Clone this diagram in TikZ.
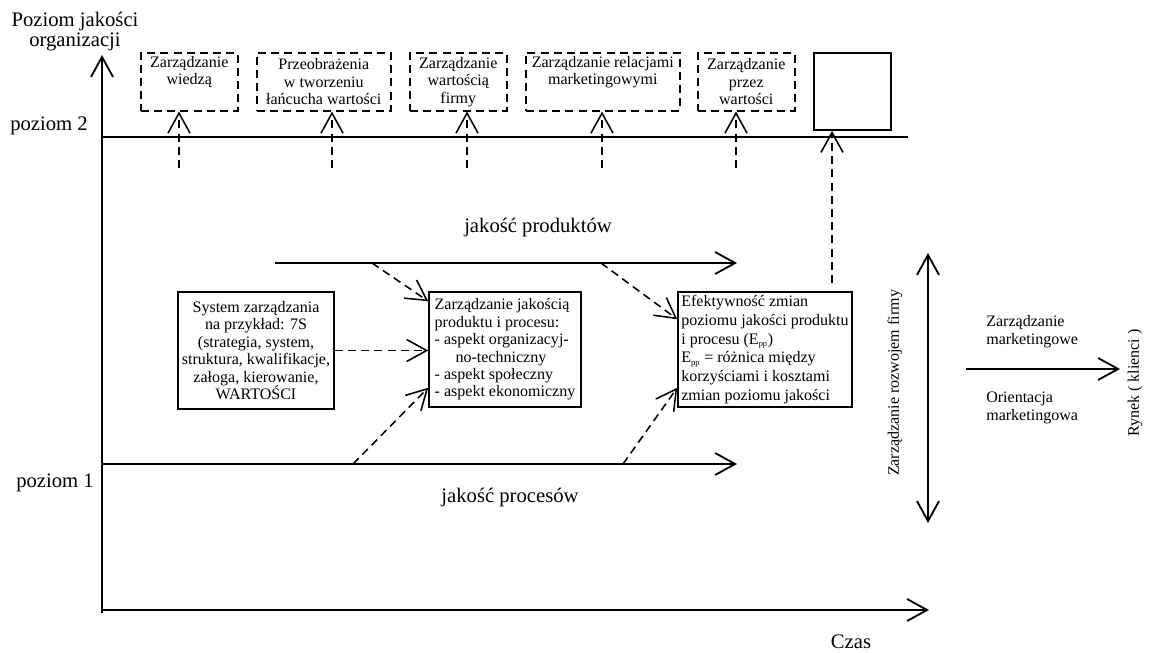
\documentclass[tikz,border=0pt]{standalone}
\usepackage{fontspec}
\setmainfont{Liberation Serif}
\usetikzlibrary{arrows.meta,calc}

\tikzset{
	linia/.style={line width=1.3pt},
	kreski/.style={line width=1.1pt, dash pattern=on 2mm off 1.3mm},
	maly/.style={font=\fontsize{11.4}{12.4}\selectfont},
	duzy/.style={font=\fontsize{14.7}{14.2}\selectfont, inner sep=0pt},
	ramka/.style={draw, line width=1.1pt, maly, inner sep=2pt},
	ramkaprzer/.style={ramka, kreski, align=center, minimum height=1.45cm, anchor=north west},
}
\def\pp{\textsubscript{\fontsize{6}{6}\selectfont pp}}

\begin{document}
\begin{tikzpicture}[x=0.25cm, y=-0.25cm, >={Straight Barb[length=5mm,width=5.5mm]}]
		%%%%% START %%%%%
		\useasboundingbox (0, 0) rectangle (114.9, 65.3);
		
		% osie
		\coordinate (os0) at (10.2, 61.3);
		\coordinate (osY) at (10.2, 5.5);
		\coordinate (os00) at (10.2, 61.0);
		\coordinate (osX) at (92.9, 61.0);
		\draw[linia, ->] (os0) -- (osY);
		\draw[linia, ->] (os00) -- (osX);
		
		\node[duzy, align=center] (organizacja) at (7.5, 3.2) {Poziom jakości\\organizacji};
		\node[duzy] (poziom2) at (4.9, 12.6) {poziom 2};
		\node[duzy] (poziom1) at (5.5, 48.3) {poziom 1};
		\node[duzy] (czas) at (85.1, 64.2) {Czas};
		
		% poziom 2
		\coordinate (p2a) at (10.2, 13.7);
		\coordinate (p2b) at (90.8, 13.7);
		\draw[linia] (p2a) -- (p2b);
		
		\node[ramkaprzer, minimum width=2.425cm] (wiedza) at (14.0, 5.2) {Zarządzanie\\wiedzą\\\strut};
		\node[ramkaprzer, minimum width=3.35cm] (lancuch) at (25.6, 5.2) {Przeobrażenia\\w tworzeniu\\łańcucha wartości};
		\node[ramkaprzer, minimum width=2.425cm] (wartosc) at (40.9, 5.2) {Zarządzanie\\wartością\\firmy};
		\node[ramkaprzer, minimum width=3.85cm] (relacje) at (52.5, 5.2) {Zarządzanie relacjami\\marketingowymi\\\strut};
		\node[ramkaprzer, minimum width=2.425cm] (przez) at (69.7, 5.2) {Zarządzanie\\przez\\wartości};
		\node[draw, linia, minimum size=1.925cm, inner sep=0pt, anchor=north west] (pusty) at (81.3, 5.2) {};
		
		\coordinate (d1) at (17.9, 16.8);
		\coordinate (d2) at (33.2, 16.8);
		\coordinate (d3) at (46.7, 16.8);
		\coordinate (d4) at (60.2, 16.8);
		\coordinate (d5) at (73.6, 16.8);
		\draw[kreski, ->] (d1) -- (d1 |- wiedza.south);
		\draw[kreski, ->] (d2) -- (d2 |- lancuch.south);
		\draw[kreski, ->] (d3) -- (d3 |- wartosc.south);
		\draw[kreski, ->] (d4) -- (d4 |- relacje.south);
		\draw[kreski, ->] (d5) -- (d5 |- przez.south);
		
		% produkty i procesy
		\coordinate (prA) at (27.5, 26.3);
		\coordinate (prB) at (73.7, 26.3);
		\coordinate (psA) at (10.2, 46.4);
		\coordinate (psB) at (73.7, 46.4);
		\draw[linia, ->] (prA) -- (prB);
		\draw[linia, ->] (psA) -- (psB);
		\node[duzy] (produkty) at (53.8, 22.8) {jakość produktów};
		\node[duzy] (procesy) at (51.0, 49.8) {jakość procesów};
		
		\node[ramka, align=center, minimum width=3.9cm, minimum height=2.925cm] (system) at (25.6, 35.05) {System zarządzania\\na przykład: 7S\\(strategia, system,\\struktura, kwalifikacje,\\załoga, kierowanie,\\WARTOŚCI};
		\node[ramka, align=left, minimum width=3.8cm, minimum height=2.875cm] (jakosc) at (50.5, 34.95) {Zarządzanie jakością\\produktu i procesu:\\- aspekt organizacyj-\\\hspace*{1.3em}no-techniczny\\- aspekt społeczny\\- aspekt ekonomiczny};
		\node[ramka, align=left, minimum width=4.35cm, minimum height=2.875cm, font=\fontsize{11.4}{13.3}\selectfont] (efekt) at (76.5, 34.95) {Efektywność zmian\\poziomu jakości produktu\\i procesu (E\pp)\\E\pp{} = różnica między\\korzyściami i kosztami\\zmian poziomu jakości};
		
		\coordinate (prC) at (37.2, 26.3);
		\coordinate (prD) at (60.1, 26.3);
		\coordinate (psC) at (35.3, 46.4);
		\coordinate (psD) at (62.3, 46.4);
		\draw[kreski, ->] (prC) -- ([yshift=-2.5mm]jakosc.north west);
		\draw[kreski, ->] (prD) -- ([yshift=-7mm]efekt.north west);
		\draw[kreski, ->] (system.east) -- (system.east -| jakosc.west);
		\draw[kreski, ->] (psC) -- ([yshift=5mm]jakosc.south west);
		\draw[kreski, ->] (psD) -- ([yshift=5mm]efekt.south west);
		
		\coordinate (e6) at (83.2, 28.3);
		\draw[kreski, ->] (e6) -- (e6 |- pusty.south);
		
		% rozwoj i rynek
		\coordinate (rd) at (92.8, 52.3);
		\coordinate (rg) at (92.8, 25.3);
		\draw[linia, <->] (rd) -- (rg);
		\node[maly, rotate=90, inner sep=0pt] (rozwoj) at (89.5, 38.3) {Zarządzanie rozwojem firmy};
		
		\coordinate (mA) at (96.6, 36.9);
		\coordinate (mB) at (112.0, 36.9);
		\draw[linia, ->] (mA) -- (mB);
		\node[maly, align=left, anchor=west, inner sep=0pt] (marketing) at (98.6, 33.15) {Zarządzanie\\marketingowe};
		\node[maly, align=left, anchor=west, inner sep=0pt] (orientacja) at (98.6, 40.8) {Orientacja\\marketingowa};
		\node[maly, rotate=90, inner sep=0pt] (rynek) at (113.5, 38.3) {Rynek ( klienci )};
		
		%%%%% END %%%%%
	\end{tikzpicture}
\end{document}
